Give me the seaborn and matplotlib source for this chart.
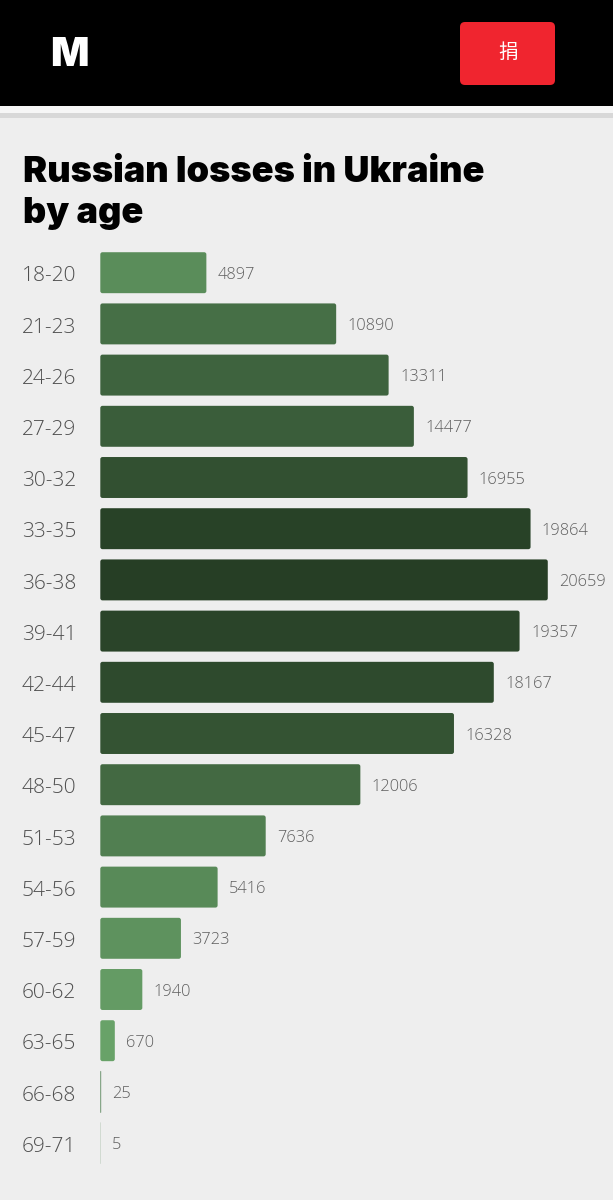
"""Russian losses in Ukraine by age, phone screenshot layout"""

import pandas as pd
import matplotlib
matplotlib.use('Agg')
import matplotlib.pyplot as plt
import seaborn as sns
from matplotlib.colors import LinearSegmentedColormap, to_rgba
from matplotlib.patches import FancyBboxPatch, Rectangle
from matplotlib.transforms import ScaledTranslation

age_groups = ['18-20', '21-23', '24-26', '27-29', '30-32', '33-35', '36-38', '39-41', '42-44',
              '45-47', '48-50', '51-53', '54-56', '57-59', '60-62', '63-65', '66-68', '69-71']
losses = [4897, 10890, 13311, 14477, 16955, 19864, 20659, 19357, 18167,
          16328, 12006, 7636, 5416, 3723, 1940, 670, 25, 5]
title_lines = ['Russian losses in Ukraine', 'by age']

W, H = 613, 1200
BG = '#eeeeee'
GREY = '#5e5e5e'
PX_PER_UNIT = 0.02166
ROW = 51.2
AX_TOP, AX_BOTTOM = 247, 1170
FIRST_CENTER = 272.7
BAR_LEFT = 100.3

sns.set_theme(style='white', rc={'figure.facecolor': BG, 'axes.facecolor': 'none'})
fig = plt.figure(figsize=(W / 100, H / 100), dpi=100)

# page furniture, in pixel coordinates
page = fig.add_axes([0, 0, 1, 1], zorder=0)
page.set_xlim(0, W)
page.set_ylim(H, 0)
page.axis('off')
page.add_patch(Rectangle((0, 0), W, 106, color='black', lw=0))
page.add_patch(Rectangle((0, 106), W, 7, color='#f6f6f6', lw=0))
page.add_patch(Rectangle((0, 113), W, 4.5, color='#d8d8d8', lw=0))
page.add_patch(FancyBboxPatch((460, 22), 95, 63, boxstyle='round,pad=0,rounding_size=5',
                              color='#f0252f', lw=0))
page.text(69, 55.5, 'M', color='white', fontsize=29, fontweight='black', family='Inter',
          ha='center', va='center')
page.text(508, 53, '捐', color='white', fontsize=14, family='Noto Sans CJK SC',
          ha='center', va='center')
page.text(23, 172, title_lines[0], color='black', fontsize=26, fontweight='black',
          family='Inter', va='center')
page.text(23, 214, title_lines[1], color='black', fontsize=26, fontweight='black',
          family='Inter', va='center')

# chart
ax = fig.add_axes([BAR_LEFT / W, 1 - AX_BOTTOM / H, 1 - BAR_LEFT / W, (AX_BOTTOM - AX_TOP) / H],
                  zorder=1)
df = pd.DataFrame({'age': age_groups, 'losses': losses})
cmap = LinearSegmentedColormap.from_list('greens', ['#6aa56a', '#263e25'])
sns.barplot(data=df, x='losses', y='age', hue='losses', palette=cmap, hue_norm=(0, max(losses)),
            dodge=False, legend=False, width=0.8, saturation=1, linewidth=0, ax=ax)

ax.set_xlim(0, (W - BAR_LEFT) / PX_PER_UNIT)
ax.set_ylim((AX_BOTTOM - FIRST_CENTER) / ROW, (AX_TOP - FIRST_CENTER) / ROW)
ax.set_xlabel('')
ax.set_ylabel('')
ax.set_xticks([])
ax.tick_params(axis='y', length=0, pad=37)
nudge = ScaledTranslation(0, -0.8 / 72, fig.dpi_scale_trans)
for label in ax.get_yticklabels():
    label.set_ha('center')
    label.set_family('Open Sans')
    label.set_fontweight('light')
    label.set_fontsize(15)
    label.set_color('#4f4f4f')
    label.set_transform(label.get_transform() + nudge)
sns.despine(ax=ax, left=True, bottom=True)

# value labels, then swap the square bars for rounded ones
for container in ax.containers:
    for text in ax.bar_label(container, fmt='%d', padding=8.2, fontsize=11.8, family='Open Sans',
                             fontweight='light', color=GREY):
        text.set_clip_on(False)
        text.xyann = (text.xyann[0], text.xyann[1] - 1.5)
    for bar in container:
        width_px = bar.get_width() * PX_PER_UNIT
        if width_px < 5:
            # hairline bars need an edge to show up at all
            bar.set_snap(False)
            bar.set_edgecolor(to_rgba('#6f8f72', 0.55 if width_px > 0.3 else 0.12))
            bar.set_linewidth(0.7)
            continue
        rounded = FancyBboxPatch((bar.get_x(), bar.get_y()), bar.get_width(), bar.get_height(),
                                 boxstyle=f'round,pad=0,rounding_size={2.2 / PX_PER_UNIT}',
                                 mutation_aspect=(1 / ROW) / (1 / PX_PER_UNIT),
                                 facecolor=bar.get_facecolor(), lw=0)
        ax.add_patch(rounded)
        bar.set_visible(False)

fig.savefig('out.png', dpi=100, facecolor=BG)
